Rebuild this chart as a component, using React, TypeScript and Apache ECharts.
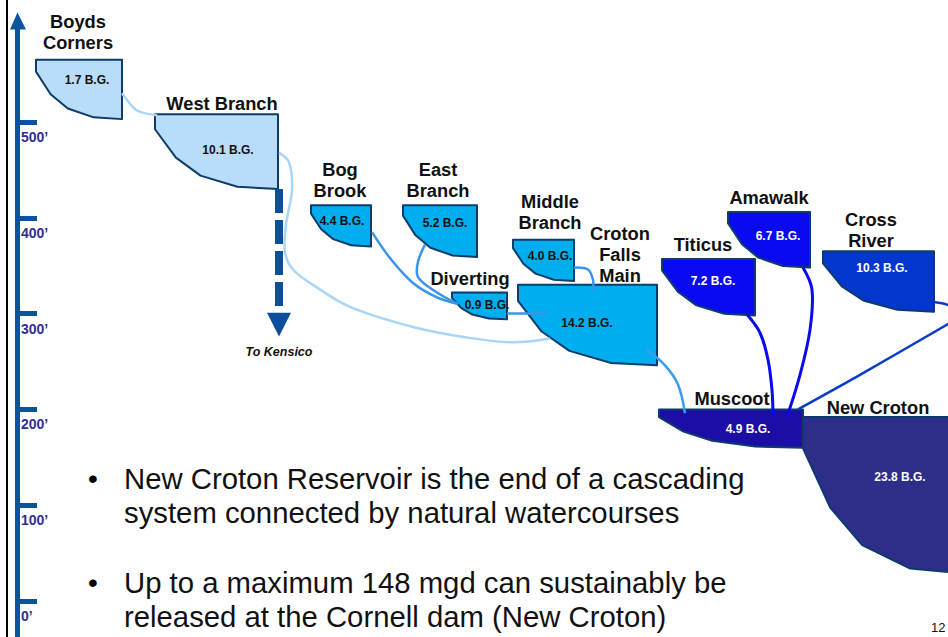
import React, { useEffect, useRef } from "react";
import * as echarts from "echarts";

const FONT = '"Liberation Sans", Arial, Helvetica, sans-serif';

// ---- Data ----
const ELEV_TICKS = [0, 100, 200, 300, 400, 500];

const NAMES = [
  "Boyds\nCorners",
  "West Branch",
  "Bog\nBrook",
  "East\nBranch",
  "Middle\nBranch",
  "Diverting",
  "Croton\nFalls\nMain",
  "Titicus",
  "Amawalk",
  "Cross\nRiver",
  "Muscoot",
  "New Croton",
];
const CAPACITY_BG = [1.7, 10.1, 4.4, 5.2, 4.0, 0.9, 14.2, 7.2, 6.7, 10.3, 4.9, 23.8];
// horizontal placement along the system (schematic units)
const X_LEFT = [36, 155, 311, 403, 513, 452, 518, 662, 728, 823, 659, 803];
const X_RIGHT = [122, 278, 371, 477, 574, 507, 657, 755, 810, 934, 803, 963];
// water surface and bottom elevations (feet)
const TOP_ELEV = [565, 508, 413, 413, 377, 322, 330, 357, 406, 365, 200, 192];
const BOTTOM_ELEV = [503, 430, 370, 359, 334, 294, 246, 298, 348, 302, 160, 29];

// connecting watercourses: [x, elevation ft]
const LINK_BOYDS_WB = [[122, 530], [127, 523], [137, 512], [157, 507]];
const LINK_WB_CF = [[279, 468], [289, 458], [292, 429], [286, 393], [285, 364], [293, 346], [313, 330], [350, 307], [413, 286], [467, 275], [513, 270], [550, 274]];
const LINK_BOG_DIV = [[372, 385], [390, 358], [413, 332], [437, 317], [458, 310]];
const LINK_EAST_DIV = [[425, 372], [418, 354], [418, 338], [437, 322], [458, 310]];
const LINK_DIV_CF = [[507, 300], [547, 300]];
const LINK_MID_CF = [[574, 348], [588, 346], [593, 335], [593, 325]];
const LINK_CF_MUS = [[647, 262], [665, 246], [678, 226], [685, 196]];
const LINK_TIT_MUS = [[747, 299], [760, 280], [768, 252], [772, 220], [773, 192]];
const LINK_AMA_MUS = [[803, 348], [812, 325], [810, 283], [800, 236], [787, 192]];
const LINK_CROSS_MUS = [[934, 312], [948, 309], [962, 302], [958, 294], [948, 289], [860, 236], [798, 200]];
const LINKS = [LINK_BOYDS_WB, LINK_WB_CF, LINK_BOG_DIV, LINK_EAST_DIV, LINK_DIV_CF, LINK_MID_CF, LINK_CF_MUS, LINK_TIT_MUS, LINK_AMA_MUS, LINK_CROSS_MUS];

// diversion to Kensico: x, from elev, to elev, arrow tip elev
const KENSICO = [279, 430, 301, 276];

const BULLETS = [
  ["New Croton Reservoir is the end of a cascading", "system connected by natural watercourses"],
  ["Up to a maximum 148 mgd can sustainably be", "released at the Cornell dam (New Croton)"],
];

// ---- Styles / layout ----
const FILL = ["#B9DDF9", "#B9DDF9", "#00AEEF", "#00AEEF", "#00AEEF", "#00AEEF", "#00AEEF", "#0A0AF2", "#0A0AF2", "#0336CC", "#1B0DA6", "#2E2E8A"];
const CAP_COLOR = ["#111", "#111", "#111", "#111", "#111", "#111", "#111", "#fff", "#fff", "#fff", "#fff", "#fff"];
const NAME_OFFSET = [[-1, 6.5], [5.5, 0.5], [-1, 4.5], [-2, 4.5], [6.5, 6.5], [-9.5, 3.5], [32.5, -1.5], [-5.5, 3.5], [0, 4.5], [-7.5, 0.5], [1, 0.5], [-5, -0.5]];
const CAP_OFFSET = [[51, 20], [73, 36], [31, 16], [42, 18], [37, 16], [35, 12], [69, 38], [51, 22], [50, 24], [59, 17], [89, 20], [97, 60]];
const LINK_COLOR = ["#A9D5F7", "#A9D5F7", "#3A94EC", "#3A94EC", "#3A94EC", "#3A94EC", "#3A9CF0", "#0A0AEE", "#0A0AEE", "#0A3CC8"];
const LINK_WIDTH = [2.5, 2.5, 2.5, 2.5, 2.5, 2.5, 2.5, 3, 3, 2.5];
const PROFILE = [[0, 0], [0, 0.2], [0.17, 0.58], [0.37, 0.82], [0.67, 0.97], [1, 1], [1, 0]];

export default function App() {
  const ref = useRef<HTMLDivElement>(null);
  useEffect(() => {
    if (!ref.current) return;
    const chart = echarts.init(ref.current, undefined, { renderer: "svg" });

    const reservoirData = NAMES.map((_, i) => [X_LEFT[i], X_RIGHT[i], TOP_ELEV[i], BOTTOM_ELEV[i], i]);
    const linkData = LINKS.map((pts, i) => [pts[0][0], pts[0][1], i]);

    const bulletGraphics: any[] = [];
    const bulletY = [[478, 512], [582, 616]];
    BULLETS.forEach((lines, b) => {
      bulletGraphics.push({
        type: "text", x: 93, y: bulletY[b][0],
        style: { text: "•", font: `28px ${FONT}`, fill: "#000", align: "center", verticalAlign: "middle", textAlign: "center", textVerticalAlign: "middle" },
      });
      lines.forEach((ln, k) => {
        bulletGraphics.push({
          type: "text", x: 124, y: bulletY[b][k],
          style: { text: ln, font: `29.3px ${FONT}`, fill: "#111", align: "left", verticalAlign: "middle", textAlign: "left", textVerticalAlign: "middle" },
        });
      });
    });

    const option: any = {
      animation: false,
      backgroundColor: "#fff",
      grid: { left: 20, right: 0, top: 122, bottom: 36 },
      xAxis: { type: "value", min: 20, max: 948, show: false },
      yAxis: {
        type: "value", min: 0, max: 500, interval: 100,
        axisLine: { show: false },
        splitLine: { show: false },
        axisTick: { show: true, inside: true, length: 17, customValues: ELEV_TICKS, lineStyle: { color: "#0B539E", width: 5 } },
        axisLabel: {
          show: true, inside: true, margin: 1, customValues: ELEV_TICKS,
          formatter: (v: number) => `${v}’`,
          color: "#2E3192", fontWeight: "bold", fontSize: 14, fontFamily: FONT,
          verticalAlign: "top", padding: [8, 0, 0, 0], showMinLabel: true, showMaxLabel: true,
        },
      },
      graphic: [
        { type: "line", shape: { x1: 7, y1: 0, x2: 7, y2: 637 }, style: { stroke: "#000", lineWidth: 2 } },
        { type: "line", shape: { x1: 17.5, y1: 28, x2: 17.5, y2: 637 }, style: { stroke: "#0B539E", lineWidth: 5 } },
        { type: "polygon", shape: { points: [[10, 29.5], [26, 29.5], [17.5, 12.5]] }, style: { fill: "#0B539E" } },
        ...bulletGraphics,
        { type: "text", x: 931, y: 627, style: { text: "12", font: `13px ${FONT}`, fill: "#111", align: "left", verticalAlign: "middle", textAlign: "left", textVerticalAlign: "middle" } },
      ],
      series: [
        {
          type: "custom",
          name: "reservoirs",
          clip: false,
          z: 2,
          encode: { x: [0, 1], y: [2, 3] },
          data: reservoirData,
          renderItem: (_p: any, api: any) => {
            const i = api.value(4);
            const tl = api.coord([api.value(0), api.value(2)]);
            const br = api.coord([api.value(1), api.value(3)]);
            const w = br[0] - tl[0];
            const h = br[1] - tl[1];
            const pts = PROFILE.map(([u, v]) => [tl[0] + u * w, tl[1] + v * h]);
            return {
              type: "group",
              children: [
                { type: "polygon", shape: { points: pts }, style: { fill: FILL[i], stroke: "#0D3B6B", lineWidth: 2, lineJoin: "round" } },
                {
                  type: "text",
                  x: (tl[0] + br[0]) / 2 + NAME_OFFSET[i][0],
                  y: tl[1] - NAME_OFFSET[i][1],
                  style: {
                    text: NAMES[i], font: `bold 18.3px ${FONT}`, fill: "#111", lineHeight: 21,
                    align: "center", verticalAlign: "bottom", textAlign: "center", textVerticalAlign: "bottom",
                  },
                },
                {
                  type: "text",
                  x: tl[0] + CAP_OFFSET[i][0],
                  y: tl[1] + CAP_OFFSET[i][1],
                  style: {
                    text: `${CAPACITY_BG[i].toFixed(1)} B.G.`, font: `bold 12px ${FONT}`, fill: CAP_COLOR[i],
                    align: "center", verticalAlign: "middle", textAlign: "center", textVerticalAlign: "middle",
                  },
                },
              ],
            };
          },
        },
        {
          type: "custom",
          name: "watercourses",
          clip: false,
          z: 3,
          data: linkData,
          renderItem: (_p: any, api: any) => {
            const i = api.value(2);
            const pts = LINKS[i].map((p) => api.coord(p));
            return {
              type: "polyline",
              shape: { points: pts, smooth: 0.35 },
              style: { stroke: LINK_COLOR[i], lineWidth: LINK_WIDTH[i], fill: "none" },
            };
          },
        },
        {
          type: "custom",
          name: "kensico",
          clip: false,
          z: 4,
          data: [KENSICO],
          renderItem: (_p: any, api: any) => {
            const x = api.value(0);
            const a = api.coord([x, api.value(1)]);
            const b = api.coord([x, api.value(2)]);
            const t = api.coord([x, api.value(3)]);
            return {
              type: "group",
              children: [
                { type: "line", shape: { x1: a[0], y1: a[1], x2: b[0], y2: b[1] }, style: { stroke: "#0B4F9C", lineWidth: 8, lineDash: [24, 7] } },
                { type: "polygon", shape: { points: [[b[0] - 12, b[1]], [b[0] + 12, b[1]], [t[0], t[1]]] }, style: { fill: "#0B4F9C" } },
                {
                  type: "text", x: t[0], y: t[1] + 15,
                  style: { text: "To Kensico", font: `italic bold 12.5px ${FONT}`, fill: "#111", align: "center", verticalAlign: "middle", textAlign: "center", textVerticalAlign: "middle" },
                },
              ],
            };
          },
        },
      ],
    };
    chart.setOption(option);
    return () => chart.dispose();
  }, []);
  return <div ref={ref} style={{ position: "absolute", left: 0, top: 0, width: 948, height: 637, background: "#fff" }} />;
}
